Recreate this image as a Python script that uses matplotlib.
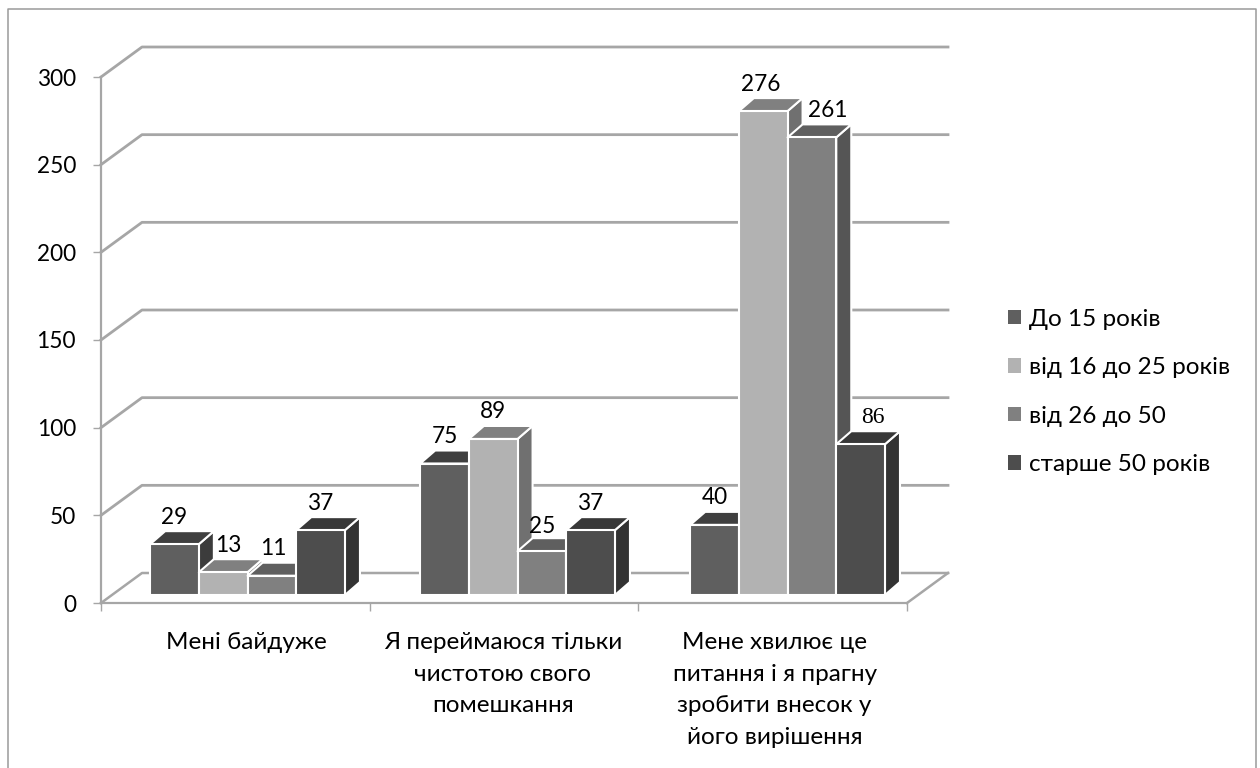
import matplotlib
matplotlib.use('Agg')
import matplotlib.pyplot as plt
from matplotlib.patches import Polygon, Patch
from matplotlib.lines import Line2D

plt.rcParams['font.family'] = ['Lato', 'Open Sans', 'DejaVu Sans']

categories = ['Мені байдуже',
              'Я переймаюся тільки\nчистотою свого\nпомешкання',
              'Мене хвилює це\nпитання і я прагну\nзробити внесок у\nйого вирішення']
series_names = ['До 15 років', 'від 16 до 25 років', 'від 26 до 50', 'старше 50 років']
s1 = [29, 75, 40]
s2 = [13, 89, 276]
s3 = [11, 25, 261]
s4 = [37, 37, 86]
series = [s1, s2, s3, s4]
yticks = [0, 50, 100, 150, 200, 250, 300]

front = ['#5f5f5f', '#b2b2b2', '#808080', '#4d4d4d']
top = ['#3f3f3f', '#808080', '#5f5f5f', '#383838']
side = ['#3c3c3c', '#707070', '#555555', '#333333']
GRID = '#a6a6a6'

W, H = 1260, 768
fig = plt.figure(figsize=(W/100, H/100), dpi=100, facecolor='white')
fig.add_artist(Line2D([7.5/W, 7.5/W, 1255.5/W, 1255.5/W], [0, 1-8.5/H, 1-8.5/H, 0],
                      transform=fig.transFigure, color='#9a9a9a', lw=1.1))

L, R, T, B = 101, 907, 77, 603
ax = fig.add_axes([L/W, 1-B/H, (R-L)/W, (B-T)/H])
ax.set_xlim(0, 3)
ax.set_ylim(0, 300)
ax.patch.set_alpha(0)
px = 3/(R-L)
py = 300/(B-T)
DX, DY = 41*px, 30*py      # wall depth
bdx, bdy = 15*px, 13*py    # bar depth
bw = 48.7*px
x0, step = 0.183, 1.005
y_base = 8*py

for sp in ['top', 'right']:
    ax.spines[sp].set_visible(False)
for sp in ['left', 'bottom']:
    ax.spines[sp].set_color(GRID)
    ax.spines[sp].set_linewidth(1.6)
ax.set_yticks(yticks)
ax.set_xticks([0, 1, 2, 3])
ax.set_xticklabels([])
ax.tick_params(axis='both', color=GRID, width=1.0, length=6, labelsize=16.3, labelcolor='black')
ax.tick_params(axis='y', pad=12)

# walls and floor
for v in yticks:
    ax.plot([0, DX, 3+DX], [v, v+DY, v+DY], color=GRID, lw=2 if v else 1.8, clip_on=False, zorder=1,
            solid_joinstyle='round')
ax.plot([3, 3+DX], [0, DY], color=GRID, lw=1.8, clip_on=False, zorder=1)

# bars
for j, vals in enumerate(series):
    for i, v in enumerate(vals):
        x = x0 + i*step + j*bw
        h = y_base + v
        z = 3 + j*0.1 + i
        kw = dict(ec='white', lw=1.5, clip_on=False, zorder=z, joinstyle='round')
        ax.add_patch(Polygon([(x+bw, y_base), (x+bw+bdx, y_base+bdy), (x+bw+bdx, h+bdy), (x+bw, h)], fc=side[j], **kw))
        ax.add_patch(Polygon([(x, h), (x+bdx, h+bdy), (x+bw+bdx, h+bdy), (x+bw, h)], fc=top[j], **kw))
        ax.add_patch(Polygon([(x, y_base), (x+bw, y_base), (x+bw, h), (x, h)], fc=front[j], **kw))

# data labels (offsets from the bar's top centre, in pixels)
nudges = {(1, 0): (5, 0), (2, 0): (1, 0), (1, 2): (-3, 0), (2, 2): (16, 0), (3, 2): (12, 0), (2, 1): (0, -2)}
for j, vals in enumerate(series):
    for i, v in enumerate(vals):
        x = x0 + i*step + j*bw + bw/2
        nx, ny = nudges.get((j, i), (0, 0))
        fam = ['Liberation Serif'] if (j, i) == (3, 2) else None
        ax.annotate(str(v), (x, y_base + v), xytext=(nx*0.72, (27+ny)*0.72), textcoords='offset points',
                    ha='center', va='center', fontsize=16.3 if fam is None else 17, color='black', family=fam,
                    zorder=20, annotation_clip=False)

# category labels
centers = [0.5, 1.5, 2.5]
nudge_cat = [11, -1, 2]
for c, n, lab in zip(centers, nudge_cat, categories):
    ax.annotate(lab, (c, 0), xytext=(n*0.72, -21), textcoords='offset points', ha='center', va='top',
                fontsize=17.5, linespacing=1.62, annotation_clip=False)

handles = [Patch(fc=c, ec='none') for c in front]
fig.legend(handles, series_names, loc='center left', bbox_to_anchor=(1008/W, 1-392/H), frameon=False,
           fontsize=17.5, handlelength=0.53, handleheight=0.53, handletextpad=0.33, labelspacing=1.13,
           borderpad=0, borderaxespad=0)
fig.savefig('out.png', dpi=100)
